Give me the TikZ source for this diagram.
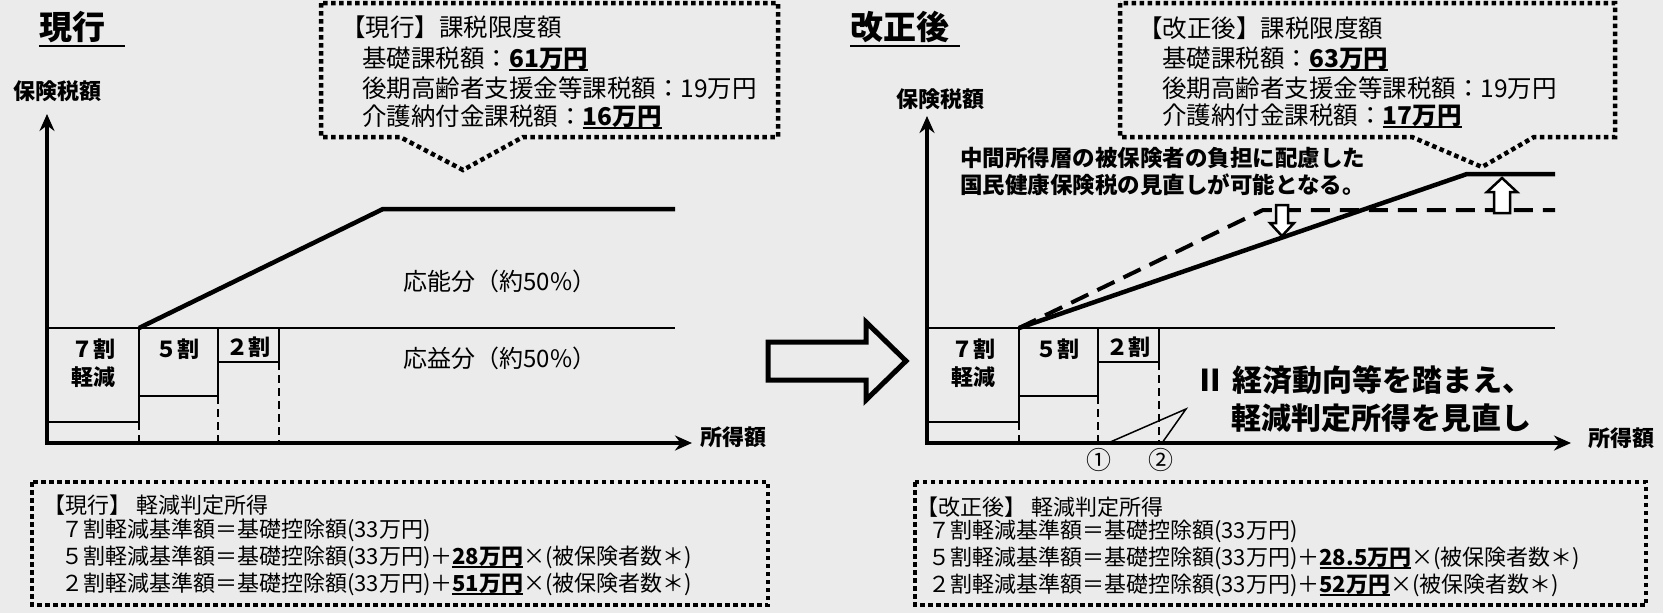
\documentclass[tikz,border=0pt]{standalone}
\usepackage{fontspec}
\setmainfont{Noto Sans CJK JP}
\usetikzlibrary{arrows.meta,positioning}

% bold text with a thick underline
\newcommand{\ulbf}[1]{\setbox0\hbox{\bfseries #1}\leavevmode\rlap{\rule[-4pt]{\wd0}{2.2pt}}\box0}

\begin{document}
\begin{tikzpicture}[x=1pt,y=-1pt,>={Stealth[length=17pt,width=15pt]},
    every node/.style={inner sep=0pt},
    dotbox/.style={line width=4.5pt,dash pattern=on 4.5pt off 3.5pt},
    axis/.style={line width=4pt,<->},
    mid/.style={line width=2.5pt},
    slope/.style={line width=4.5pt,line join=miter},
    oldslope/.style={line width=4pt,dash pattern=on 19pt off 10pt},
    box/.style={line width=2.5pt},
    guide/.style={line width=2pt,dash pattern=on 8pt off 5pt},
    ttl/.style={font=\fontsize{33}{36}\selectfont\bfseries},
    boxtxt/.style={font=\fontsize{24.5}{28}\selectfont},
    formtxt/.style={font=\fontsize{22}{26}\selectfont},
    lbl/.style={font=\fontsize{22}{25}\selectfont\bfseries},
    mtxt/.style={font=\fontsize{24}{28}\selectfont},
    note/.style={font=\fontsize{22.5}{26}\selectfont\bfseries},
    big/.style={font=\fontsize{30}{34}\selectfont\bfseries},
    blockarr/.style={line width=2.5pt,fill=white,line join=miter}]
  \useasboundingbox (0,0) rectangle (1663,613);
  \fill[black!8] (0,0) rectangle (1663,613);

  % ---------- Left: current ----------
  \node[ttl] (title1) at (72,27) {現行};
  \draw[line width=2pt] ([yshift=-3pt]title1.south west) -- ++(86,0);

  % tax limit box
  \draw[dotbox] (321,3) -- (321,137) -- (400,137) -- (463,170) -- (523,137) -- (778,137) -- (778,3) -- cycle;
  \node[boxtxt,anchor=west] (cap1) at (341,27) {【現行】課税限度額};
  \node[boxtxt,anchor=west] (ka1) at (362,59) {基礎課税額：\ulbf{61万円}};
  \node[boxtxt,anchor=west] (kb1) at (362,88) {後期高齢者支援金等課税額：19万円};
  \node[boxtxt,anchor=west] (kc1) at (362,117) {介護納付金課税額：\ulbf{16万円}};

  % axes
  \coordinate (Y1) at (47,114);
  \coordinate (X1) at (692,443);
  \draw[axis] (Y1) |- (X1);
  \node[lbl] (ylab1) at (57,91) {保険税額};
  \node[lbl,anchor=west] (xlab1) at (700,437) {所得額};

  % levels
  \coordinate (M1) at (47,328);
  \coordinate (E1) at (675,328);
  \coordinate (S1) at (139,328);
  \coordinate (K1) at (383,209);
  \coordinate (T1) at (675,209);
  \draw[mid] (M1) -- (E1);
  \draw[slope] (S1) -- (K1) -- (T1);
  \node[mtxt] (onou1) at (500,281) {応能分（約50\%）};
  \node[mtxt] (oeki1) at (500,358) {応益分（約50\%）};

  % reduction boxes
  \draw[box] (47,328) rectangle (139,422);
  \draw[box] (139,328) rectangle (218,396);
  \draw[box] (218,328) rectangle (279,362);
  \draw[guide] (139,422) -- (139,443);
  \draw[guide] (218,396) -- (218,443);
  \draw[guide] (279,362) -- (279,443);
  \node[lbl] (r7a1) at (93,349) {７割};
  \node[lbl] (r7b1) at (93,377) {軽減};
  \node[lbl] (r51) at (177,349) {５割};
  \node[lbl] (r21) at (248,347) {２割};

  % judgement income box
  \draw[dotbox] (32,482) rectangle (768,605);
  \node[formtxt,anchor=west] (fa1) at (43,505) {【現行】 軽減判定所得};
  \node[formtxt,anchor=west] (fb1) at (61,530) {７割軽減基準額＝基礎控除額(33万円)};
  \node[formtxt,anchor=west] (fc1) at (61,557) {５割軽減基準額＝基礎控除額(33万円)＋\ulbf{28万円}×(被保険者数＊)};
  \node[formtxt,anchor=west] (fd1) at (61,584) {２割軽減基準額＝基礎控除額(33万円)＋\ulbf{51万円}×(被保険者数＊)};

  % ---------- hollow arrow ----------
  \draw[line width=5pt,line join=miter] (768,342) -- (866,342) -- (866,322) -- (906,361) -- (866,400) -- (866,380) -- (768,380) -- cycle;

  % ---------- Right: after revision ----------
  \node[ttl] (title2) at (900,27) {改正後};
  \draw[line width=2pt] ([yshift=-3pt]title2.south west) -- ++(110,0);

  % tax limit box
  \draw[dotbox] (1120,3) -- (1120,137) -- (1412,137) -- (1482,167) -- (1534,137) -- (1615,137) -- (1615,3) -- cycle;
  \node[boxtxt,anchor=west] (cap2) at (1138,28) {【改正後】課税限度額};
  \node[boxtxt,anchor=west] (ka2) at (1162,59) {基礎課税額：\ulbf{63万円}};
  \node[boxtxt,anchor=west] (kb2) at (1162,88) {後期高齢者支援金等課税額：19万円};
  \node[boxtxt,anchor=west] (kc2) at (1162,116) {介護納付金課税額：\ulbf{17万円}};

  % axes
  \coordinate (Y2) at (927,116);
  \coordinate (X2) at (1571,443);
  \draw[axis] (Y2) |- (X2);
  \node[lbl] (ylab2) at (940,99) {保険税額};
  \node[lbl,anchor=west] (xlab2) at (1588,438) {所得額};

  % levels
  \coordinate (M2) at (927,328);
  \coordinate (E2) at (1555,328);
  \coordinate (S2) at (1019,328);
  \coordinate (K2) at (1467,174);
  \coordinate (T2) at (1555,174);
  \coordinate (KO) at (1263,210);
  \coordinate (TO) at (1555,210);
  \draw[mid] (M2) -- (E2);
  \draw[oldslope] (S2) -- (KO) -- (TO);
  \draw[slope] (S2) -- (K2) -- (T2);

  % up and down block arrows
  \draw[blockarr] (1276,205) -- (1288,205) -- (1288,223) -- (1294,223) -- (1282,236) -- (1270,223) -- (1276,223) -- cycle;
  \draw[blockarr] (1494,213) -- (1510,213) -- (1510,192) -- (1517,192) -- (1502,178) -- (1487,192) -- (1494,192) -- cycle;

  \node[note,anchor=west] (memo1) at (960,158) {中間所得層の被保険者の負担に配慮した};
  \node[note,anchor=west] (memo2) at (960,185) {国民健康保険税の見直しが可能となる。};

  % reduction boxes
  \draw[box] (927,328) rectangle (1019,422);
  \draw[box] (1019,328) rectangle (1098,396);
  \draw[box] (1098,328) rectangle (1159,362);
  \draw[guide] (1019,422) -- (1019,443);
  \draw[guide] (1098,396) -- (1098,443);
  \draw[guide] (1159,362) -- (1159,443);
  \node[lbl] (r7a2) at (973,349) {７割};
  \node[lbl] (r7b2) at (973,377) {軽減};
  \node[lbl] (r52) at (1057,349) {５割};
  \node[lbl] (r22) at (1128,347) {２割};

  % shift of the thresholds
  \node[formtxt,font=\fontsize{25}{28}\selectfont] (p1) at (1099,460) {①};
  \node[formtxt,font=\fontsize{25}{28}\selectfont] (p2) at (1161,460) {②};
  \coordinate (q1) at (1108,443);
  \coordinate (q2) at (1186,409);
  \coordinate (q3) at (1162,443);
  \draw[line width=1.5pt] (q1) -- (q2) -- (q3);
  \node[big,anchor=west] (rev1) at (1195,380) {Ⅱ 経済動向等を踏まえ、};
  \node[big,anchor=west] (rev2) at (1231,418) {軽減判定所得を見直し};

  % judgement income box
  \draw[dotbox] (915,482) rectangle (1646,605);
  \node[formtxt,anchor=west] (fa2) at (916,507) {【改正後】 軽減判定所得};
  \node[formtxt,anchor=west] (fb2) at (928,531) {７割軽減基準額＝基礎控除額(33万円)};
  \node[formtxt,anchor=west] (fc2) at (928,558) {５割軽減基準額＝基礎控除額(33万円)＋\ulbf{28.5万円}×(被保険者数＊)};
  \node[formtxt,anchor=west] (fd2) at (928,585) {２割軽減基準額＝基礎控除額(33万円)＋\ulbf{52万円}×(被保険者数＊)};
\end{tikzpicture}
\end{document}
